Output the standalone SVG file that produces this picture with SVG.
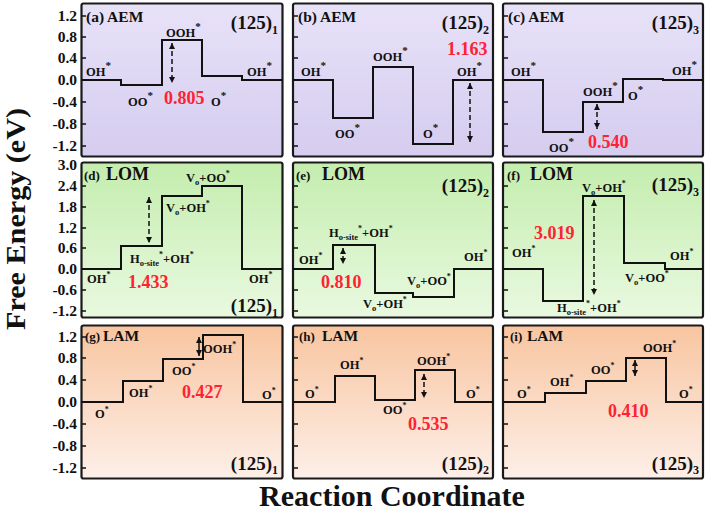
<svg xmlns="http://www.w3.org/2000/svg" width="709" height="512" viewBox="0 0 709 512">
<defs>
<linearGradient id="gAEM" x1="0" y1="0" x2="0" y2="1"><stop offset="0" stop-color="#e8e2f8"/><stop offset="1" stop-color="#d5ccef"/></linearGradient>
<linearGradient id="gLOM" x1="0" y1="0" x2="0" y2="1"><stop offset="0" stop-color="#c4edae"/><stop offset="1" stop-color="#e9f9e0"/></linearGradient>
<linearGradient id="gLAM" x1="0" y1="0" x2="0" y2="1"><stop offset="0" stop-color="#f8c5a0"/><stop offset="1" stop-color="#fdefe8"/></linearGradient>
<marker id="ah" viewBox="0 0 6 6" refX="6" refY="3" markerWidth="6" markerHeight="6" markerUnits="userSpaceOnUse" orient="auto-start-reverse"><path d="M0,0 L6,3 L0,6 z" fill="#111"/></marker>
</defs>
<style>
text{font-family:"Liberation Serif","Times New Roman",serif;font-weight:bold;fill:#111}
.frame{stroke:#1a1a1a;stroke-width:2.2}
.step{fill:none;stroke:#111;stroke-width:2}
.tk{stroke:#111;stroke-width:1.6}
.tl{font-size:15.5px;text-anchor:end}
.lb{font-size:12.5px}
.s1{font-size:11px}
.s2{font-size:8px}
.sub{font-size:8.5px}
.ttl{font-size:15.5px}
.pl{font-size:13px}
.big{font-size:18px}
.idx{font-size:19px;text-anchor:end}
.ix{font-size:12px}
.val{font-size:18px;fill:#ff2233}
.arr{stroke:#111;stroke-width:1.5;fill:none;marker-start:url(#ah);marker-end:url(#ah)}
.dash{stroke-dasharray:5 3}
</style>

<g id="axis-labels">
<text class="tl" x="77" y="21">1.2</text><text class="tl" x="77" y="42">0.8</text><text class="tl" x="77" y="63">0.4</text><text class="tl" x="77" y="85">0.0</text><text class="tl" x="77" y="107">-0.4</text><text class="tl" x="77" y="129">-0.8</text><text class="tl" x="77" y="151">-1.2</text>
<text class="tl" x="77" y="170">3.0</text><text class="tl" x="77" y="191">2.4</text><text class="tl" x="77" y="212">1.8</text><text class="tl" x="77" y="233">1.2</text><text class="tl" x="77" y="253">0.6</text><text class="tl" x="77" y="274">0.0</text><text class="tl" x="77" y="295">-0.6</text><text class="tl" x="77" y="316">-1.2</text>
<text class="tl" x="77" y="342">1.2</text><text class="tl" x="77" y="363">0.8</text><text class="tl" x="77" y="385">0.4</text><text class="tl" x="77" y="407">0.0</text><text class="tl" x="77" y="429">-0.4</text><text class="tl" x="77" y="451">-0.8</text><text class="tl" x="77" y="473">-1.2</text>
<text transform="translate(25,219) rotate(-90)" text-anchor="middle" font-size="28" textLength="222" lengthAdjust="spacingAndGlyphs">Free Energy (eV)</text>
<text x="392" y="506" text-anchor="middle" font-size="30">Reaction Coordinate</text>
</g>

<g id="panel-a">
<rect class="frame" x="81.5" y="3.5" width="201" height="153" rx="2" fill="url(#gAEM)"/>
<path class="tk" d="M82,16h4M82,37h4M82,58h4M82,80h4M82,102h4M82,124h4M82,146h4"/>
<path class="step" d="M81.5,80 H121 V85 H162 V40 H202 V76 H242 V80 H282.5"/>
<text class="ttl" x="86" y="22">(a) AEM</text>
<text class="idx" x="278" y="29">(125)<tspan class="ix" dy="5">1</tspan></text>
<text class="lb" x="86" y="76">OH<tspan class="s1" dy="-7">*</tspan></text>
<text class="lb" x="128" y="106">OO<tspan class="s1" dy="-7">*</tspan></text>
<text class="lb" x="166" y="37">OOH<tspan class="s1" dy="-7">*</tspan></text>
<text class="lb" x="211" y="106">O<tspan class="s1" dy="-7">*</tspan></text>
<text class="lb" x="247" y="76">OH<tspan class="s1" dy="-7">*</tspan></text>
<text class="val" x="164" y="104">0.805</text>
</g>

<g id="panel-b">
<rect class="frame" x="293" y="3.5" width="200" height="153" rx="2" fill="url(#gAEM)"/>
<path class="tk" d="M294,16h4M294,37h4M294,58h4M294,80h4M294,102h4M294,124h4M294,146h4"/>
<path class="step" d="M293,80 H333 V118 H373 V67 H413 V144 H453 V80 H493"/>
<text class="ttl" x="298" y="22">(b) AEM</text>
<text class="idx" x="489" y="29">(125)<tspan class="ix" dy="5">2</tspan></text>
<text class="lb" x="301" y="76">OH<tspan class="s1" dy="-7">*</tspan></text>
<text class="lb" x="335" y="138">OO<tspan class="s1" dy="-7">*</tspan></text>
<text class="lb" x="373" y="61">OOH<tspan class="s1" dy="-7">*</tspan></text>
<text class="lb" x="423" y="138">O<tspan class="s1" dy="-7">*</tspan></text>
<text class="lb" x="457" y="76">OH<tspan class="s1" dy="-7">*</tspan></text>
<text class="val" x="447" y="55">1.163</text>
</g>

<g id="panel-c">
<rect class="frame" x="503" y="3.5" width="200" height="153" rx="2" fill="url(#gAEM)"/>
<path class="tk" d="M504,16h4M504,37h4M504,58h4M504,80h4M504,102h4M504,124h4M504,146h4"/>
<path class="step" d="M503,80 H543 V132 H583 V102 H623 V79 H663 V80 H703"/>
<text class="ttl" x="508" y="22">(c) AEM</text>
<text class="idx" x="699" y="29">(125)<tspan class="ix" dy="5">3</tspan></text>
<text class="lb" x="511" y="76">OH<tspan class="s1" dy="-7">*</tspan></text>
<text class="lb" x="549" y="152">OO<tspan class="s1" dy="-7">*</tspan></text>
<text class="lb" x="583" y="96">OOH<tspan class="s1" dy="-7">*</tspan></text>
<text class="lb" x="628" y="100">O<tspan class="s1" dy="-7">*</tspan></text>
<text class="lb" x="672" y="75">OH<tspan class="s1" dy="-7">*</tspan></text>
<text class="val" x="588" y="148">0.540</text>
</g>

<g id="panel-d">
<rect class="frame" x="81.5" y="162.5" width="201" height="155" rx="2" fill="url(#gLOM)"/>
<path class="tk" d="M82,186h4M82,207h4M82,228h4M82,248h4M82,269h4M82,290h4M82,311h4"/>
<path class="step" d="M81.5,269 H121 V246 H162 V196 H202 V186 H242 V269 H282.5"/>
<text x="84" y="180"><tspan class="pl">(d)</tspan><tspan class="big" x="106">LOM</tspan></text>
<text class="idx" x="278" y="312">(125)<tspan class="ix" dy="5">1</tspan></text>
<text class="lb" x="87" y="283">OH<tspan class="s2" dy="-6">*</tspan></text>
<text class="lb" x="130" y="263">H<tspan class="sub" dy="3">o-site</tspan><tspan class="s2" dy="-9">*</tspan><tspan dy="6">+OH</tspan><tspan class="s2" dy="-6">*</tspan></text>
<text class="lb" x="166" y="212">V<tspan class="sub" dy="3">o</tspan><tspan dy="-3">+OH</tspan><tspan class="s2" dy="-6">*</tspan></text>
<text class="lb" x="186" y="182">V<tspan class="sub" dy="3">o</tspan><tspan dy="-3">+OO</tspan><tspan class="s2" dy="-6">*</tspan></text>
<text class="lb" x="249" y="283">OH<tspan class="s2" dy="-6">*</tspan></text>
<text class="val" x="128" y="288">1.433</text>
</g>

<g id="panel-e">
<rect class="frame" x="293" y="162.5" width="200" height="155" rx="2" fill="url(#gLOM)"/>
<path class="tk" d="M294,186h4M294,207h4M294,228h4M294,248h4M294,269h4M294,290h4M294,311h4"/>
<path class="step" d="M293,269 H333 V245 H375 V293 H413 V297 H454 V269 H493"/>
<text x="296" y="180"><tspan class="pl">(e)</tspan><tspan class="big" x="322">LOM</tspan></text>
<text class="idx" x="489" y="192">(125)<tspan class="ix" dy="5">2</tspan></text>
<text class="lb" x="299" y="264">OH<tspan class="s2" dy="-6">*</tspan></text>
<text class="lb" x="329" y="237">H<tspan class="sub" dy="3">o-site</tspan><tspan class="s2" dy="-9">*</tspan><tspan dy="6">+OH</tspan><tspan class="s2" dy="-6">*</tspan></text>
<text class="lb" x="363" y="308">V<tspan class="sub" dy="3">o</tspan><tspan dy="-3">+OH</tspan><tspan class="s2" dy="-6">*</tspan></text>
<text class="lb" x="407" y="285">V<tspan class="sub" dy="3">o</tspan><tspan dy="-3">+OO</tspan><tspan class="s2" dy="-6">*</tspan></text>
<text class="lb" x="464" y="261">OH<tspan class="s2" dy="-6">*</tspan></text>
<text class="val" x="321" y="288">0.810</text>
</g>

<g id="panel-f">
<rect class="frame" x="503" y="162.5" width="200" height="155" rx="2" fill="url(#gLOM)"/>
<path class="tk" d="M504,186h4M504,207h4M504,228h4M504,248h4M504,269h4M504,290h4M504,311h4"/>
<path class="step" d="M503,269 H543 V301 H583 V196 H624 V263 H665 V269 H703"/>
<text x="507" y="180"><tspan class="pl">(f)</tspan><tspan class="big" x="530">LOM</tspan></text>
<text class="idx" x="699" y="191">(125)<tspan class="ix" dy="5">3</tspan></text>
<text class="lb" x="512" y="257">OH<tspan class="s2" dy="-6">*</tspan></text>
<text class="lb" x="557" y="312">H<tspan class="sub" dy="3">o-site</tspan><tspan class="s2" dy="-9">*</tspan><tspan dy="6">+OH</tspan><tspan class="s2" dy="-6">*</tspan></text>
<text class="lb" x="582" y="192">V<tspan class="sub" dy="3">o</tspan><tspan dy="-3">+OH</tspan><tspan class="s2" dy="-6">*</tspan></text>
<text class="lb" x="625" y="282">V<tspan class="sub" dy="3">o</tspan><tspan dy="-3">+OO</tspan><tspan class="s2" dy="-6">*</tspan></text>
<text class="lb" x="670" y="260">OH<tspan class="s2" dy="-6">*</tspan></text>
<text class="val" x="534" y="239">3.019</text>
</g>

<g id="panel-g">
<rect class="frame" x="81.5" y="325.5" width="201" height="153" rx="2" fill="url(#gLAM)"/>
<path class="tk" d="M82,337h4M82,358h4M82,380h4M82,402h4M82,424h4M82,446h4M82,468h4"/>
<path class="step" d="M81.5,402 H123 V381 H163 V359 H203 V335 H243 V402 H282.5"/>
<text x="85" y="341"><tspan class="pl">(g)</tspan><tspan class="ttl" x="103">LAM</tspan></text>
<text class="idx" x="278" y="470">(125)<tspan class="ix" dy="4">1</tspan></text>
<text class="lb" x="95" y="418">O<tspan class="s2" dy="-6">*</tspan></text>
<text class="lb" x="129" y="397">OH<tspan class="s2" dy="-6">*</tspan></text>
<text class="lb" x="172" y="375">OO<tspan class="s2" dy="-6">*</tspan></text>
<text class="lb" x="203" y="353">OOH<tspan class="s2" dy="-6">*</tspan></text>
<text class="lb" x="262" y="399">O<tspan class="s2" dy="-6">*</tspan></text>
<text class="val" x="182" y="398">0.427</text>
</g>

<g id="panel-h">
<rect class="frame" x="293" y="325.5" width="200" height="153" rx="2" fill="url(#gLAM)"/>
<path class="tk" d="M294,337h4M294,358h4M294,380h4M294,402h4M294,424h4M294,446h4M294,468h4"/>
<path class="step" d="M293,402 H335 V376 H375 V400 H415 V370 H455 V402 H493"/>
<text x="299" y="341"><tspan class="pl">(h)</tspan><tspan class="ttl" x="322">LAM</tspan></text>
<text class="idx" x="489" y="470">(125)<tspan class="ix" dy="4">2</tspan></text>
<text class="lb" x="305" y="398">O<tspan class="s2" dy="-6">*</tspan></text>
<text class="lb" x="340" y="369">OH<tspan class="s2" dy="-6">*</tspan></text>
<text class="lb" x="383" y="414">OO<tspan class="s2" dy="-6">*</tspan></text>
<text class="lb" x="417" y="365">OOH<tspan class="s2" dy="-6">*</tspan></text>
<text class="lb" x="466" y="398">O<tspan class="s2" dy="-6">*</tspan></text>
<text class="val" x="408" y="430">0.535</text>
</g>

<g id="panel-i">
<rect class="frame" x="503" y="325.5" width="200" height="153" rx="2" fill="url(#gLAM)"/>
<path class="tk" d="M504,337h4M504,358h4M504,380h4M504,402h4M504,424h4M504,446h4M504,468h4"/>
<path class="step" d="M503,402 H545 V393 H586 V381 H626 V358 H666 V402 H703"/>
<text x="510" y="341"><tspan class="pl">(i)</tspan><tspan class="ttl" x="527">LAM</tspan></text>
<text class="idx" x="699" y="470">(125)<tspan class="ix" dy="4">3</tspan></text>
<text class="lb" x="517" y="398">O<tspan class="s2" dy="-6">*</tspan></text>
<text class="lb" x="550" y="386">OH<tspan class="s2" dy="-6">*</tspan></text>
<text class="lb" x="591" y="374">OO<tspan class="s2" dy="-6">*</tspan></text>
<text class="lb" x="643" y="352">OOH<tspan class="s2" dy="-6">*</tspan></text>
<text class="lb" x="679" y="398">O<tspan class="s2" dy="-6">*</tspan></text>
<text class="val" x="608" y="417">0.410</text>
</g>

<g id="connectors">
<line class="arr dash" x1="172" y1="43" x2="172" y2="83"/>
<line class="arr dash" x1="470" y1="83" x2="470" y2="142"/>
<line class="arr dash" x1="597" y1="104" x2="597" y2="129"/>
<line class="arr dash" x1="149" y1="197" x2="149" y2="243"/>
<line class="arr dash" x1="343" y1="248" x2="343" y2="264"/>
<line class="arr dash" x1="594" y1="200" x2="594" y2="295"/>
<line class="arr" x1="199" y1="337" x2="199" y2="356"/>
<line class="arr dash" x1="424" y1="374" x2="424" y2="398"/>
<line class="arr" x1="635" y1="360" x2="635" y2="376"/>
</g>
</svg>
